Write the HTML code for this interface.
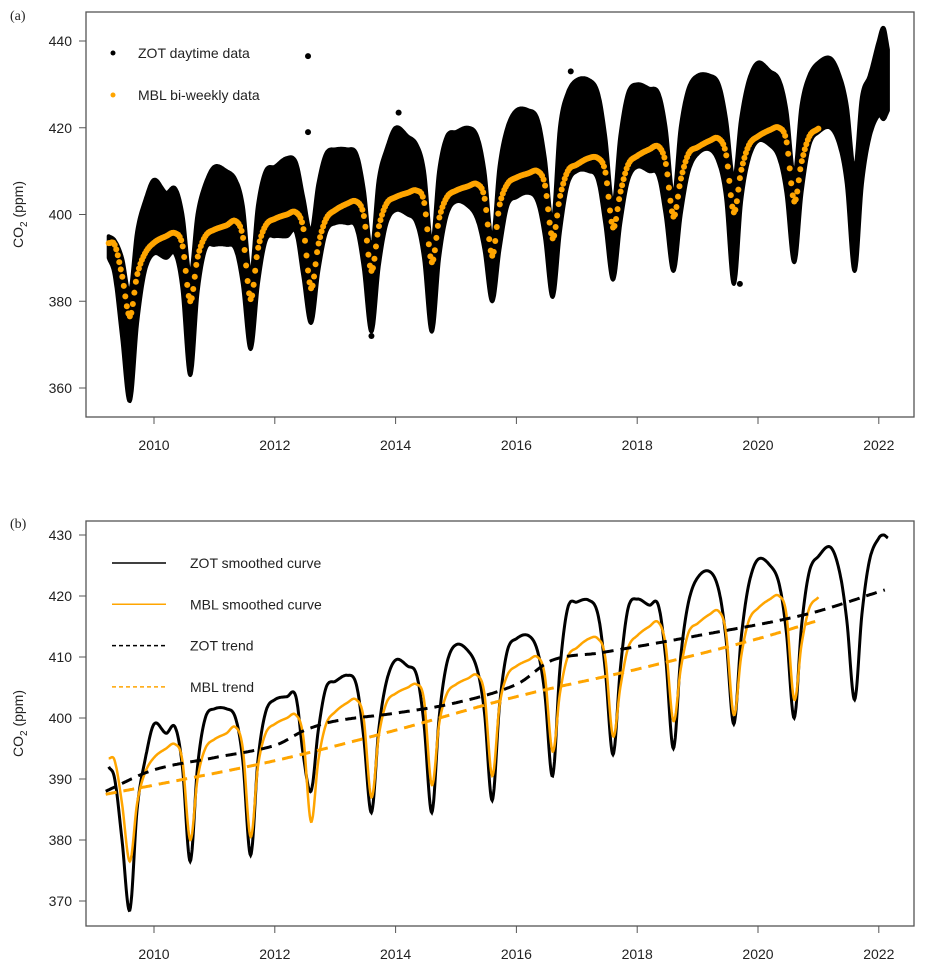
<!DOCTYPE html>
<html><head><meta charset="utf-8"><style>
body{margin:0;background:#fff}
svg text{font-family:"Liberation Sans",sans-serif;font-size:14px;fill:#222}
.ser{font-family:"Liberation Serif",serif}
</style></head><body>
<svg id="c" width="925" height="974" xmlns="http://www.w3.org/2000/svg"></svg>
<script>
// ---- data ----
const years=[2009,2010,2011,2012,2013,2014,2015,2016,2017,2018,2019,2020,2021];
const phases=[0,0.2,0.35,0.47,0.6,0.72,0.85];
const zotT=[2009.25,2009.35,2009.47,2009.6,2009.72,2009.85];
const zotSmooth=[392,390,380,368.5,385,393,
399,397.5,398.5,392,376.5,392,400,
401.5,401.5,400,393,377.5,393,401,
403,403.5,403.5,394,388,398,405,
406,407,405.5,397,384.5,398,406,
409.5,408.5,407,399,384.5,400,409,
412,411,408,401,386.5,402,411,
413,413.5,411,404,390.5,408,418,
419,419.3,417,408,394,408,418,
419.5,418.5,418.5,410,395,410,419,
423,424,421,413,399,413,422,
426,425,422,414,400,415,424,
426.5,428,424,416,403,417,426,
429.5,430,429.5];
const zotHi=[395,394,390,382,396,403,
408,405,406,400,386,400,407,
411,410,408,402,386,402,410,
411,413,412,404,396,407,414,
415,415,414,406,392,408,415,
420,418,416,410,393,410,418,
419,420,418,410,394,411,420,
424,424,422,413,398,420,428,
431,431,428,418,402,418,428,
430,429,428,420,404,420,429,
432,432,430,422,408,422,431,
435,433,431,424,409,425,432,
435,436,432,425,410,427,432,
440,443,438];
const zotLo=[390,386,372,357,375,387,
391,390,391,383,363,382,392,
393,393,392,384,369,384,394,
395,395,396,386,375,387,396,
398,398,397,388,373,388,398,
401,400,398,390,373,390,400,
403,402,399,392,380,392,402,
404,405,403,395,381,396,407,
410,410,408,398,385,398,408,
411,410,409,400,387,400,410,
414,415,412,404,384,403,413,
417,416,413,405,389,405,416,
419,420,416,407,387,407,418,
423,422,424];
const mblSmooth=[393.4,393,386,376.5,386,391,
393.5,395,395.7,393,380,390,395,
396.5,397.5,398.5,395,380.5,392,397.5,
399,400,400.5,397,383,393,399,
401,402.5,403,400,387,397,402.5,
404,405,405.5,403,389,399,404,
405.5,406.5,407,404,390.5,402,407,
408.5,409.5,410,407,394.5,404,410,
411.5,413,413,410,397,405,411.5,
413.5,415,415.7,412,399.5,408,414,
415.5,417,417.5,414,400.5,410,416,
418,419.5,420,417,403,412,418,
419.8];
const zotTrendT=[2009.2,2010,2011,2012,2012.5,2013,2014,2015,2016,2016.6,2017.4,2019,2020.8,2022.1];
const zotTrend=[388,391.5,393.5,395.5,398,399.5,400.8,402.5,405.5,409.5,410.7,413.5,417,421];
const mblTrendT=[2009.2,2010,2012,2014,2016,2018,2020,2021];
const mblTrend=[387.5,389,393,398,403.5,408,413,416];
const outT=[2012.55,2012.55,2013.6,2014.05,2016.9,2019.7,2021.4];
const outV=[436.5,419,372,423.5,433,384,428];
const yTicksA=[360,380,400,420,440];
const yTicksB=[370,380,390,400,410,420,430];
const xTicks=[2010,2012,2014,2016,2018,2020,2022];
// build time grids
const T=zotT.slice();
for(let i=1;i<years.length;i++)for(const p of phases)T.push(years[i]+p);
T.push(2022,2022.08,2022.15);
const mT=T.slice(0,mblSmooth.length-1);mT.push(2021.0);

// ---- helpers ----
const NS='http://www.w3.org/2000/svg';
const svg=document.getElementById('c');
function el(tag,attrs,parent){const e=document.createElementNS(NS,tag);for(const k in attrs)e.setAttribute(k,attrs[k]);(parent||svg).appendChild(e);return e;}
const X=t=>154+(t-2010)*60.4;
const YA=v=>388-(v-360)*4.3375;
const YB=v=>901-(v-370)*6.1;
// cubic hermite with catmull-rom tangents (non-uniform)
function spline(xs,ys){const n=xs.length,m=[];
 for(let i=0;i<n;i++){const a=Math.max(0,i-1),b=Math.min(n-1,i+1);m[i]=(ys[b]-ys[a])/(xs[b]-xs[a]);}
 return t=>{let i=0;while(i<n-2&&t>xs[i+1])i++;const h=xs[i+1]-xs[i],u=Math.min(1,Math.max(0,(t-xs[i])/h));
  const h00=2*u*u*u-3*u*u+1,h10=u*u*u-2*u*u+u,h01=-2*u*u*u+3*u*u,h11=u*u*u-u*u;
  return h00*ys[i]+h10*h*m[i]+h01*ys[i+1]+h11*h*m[i+1];};}
function pathOf(xs,ys,Y,step){const f=spline(xs,ys);let d='';
 for(let t=xs[0];t<=xs[xs.length-1]+1e-9;t+=step){d+=(d?'L':'M')+X(t).toFixed(1)+','+Y(f(t)).toFixed(1);}
 return d;}

function axes(top,bottom,Y,ticks,label,tag,labY){
 el('rect',{x:86,y:top,width:828,height:bottom-top,fill:'none',stroke:'#555','stroke-width':1.3,});
 for(const v of ticks){const y=Y(v);
  const tk=el('line',{x1:79,x2:86,y1:y,y2:y,stroke:'#555'});
  const tx=el('text',{x:72,y:y+5,'text-anchor':'end'});tx.textContent=v;
  }
 for(const t of xTicks){const x=X(t);
  const tk=el('line',{x1:x,x2:x,y1:bottom,y2:bottom+7,stroke:'#555'});
  const tx=el('text',{x:x,y:bottom+33,'text-anchor':'middle'});tx.textContent=t;
  }
 const yl=el('text',{x:0,y:0,'text-anchor':'middle',transform:`translate(23,${(top+bottom)/2}) rotate(-90)`});
 yl.innerHTML='CO<tspan dy="4" font-size="10">2</tspan><tspan dy="-4"> (ppm)</tspan>';
 
 const pl=el('text',{x:10,y:labY,'class':'ser'});pl.textContent=label;
 
}

// ---- panel a ----
axes(12,417,YA,yTicksA,'(a)','panel-a',20);
{const fh=spline(T,zotHi),fl=spline(T,zotLo);let d='';
 for(let t=T[0];t<=T[T.length-1]+1e-9;t+=0.01)d+=(d?'L':'M')+X(t).toFixed(1)+','+YA(fh(t)).toFixed(1);
 for(let t=T[T.length-1];t>=T[0]-1e-9;t-=0.01)d+='L'+X(t).toFixed(1)+','+YA(fl(t)).toFixed(1);
 const band=el('path',{d:d+'Z',fill:'#000',stroke:'#000','stroke-width':4,'stroke-linejoin':'round'});
 }
for(let i=0;i<outT.length;i++){const c=el('circle',{cx:X(outT[i]),cy:YA(outV[i]),r:3,fill:'#000'});
 }
{const f=spline(mT,mblSmooth);
 for(let t=mT[0];t<=mT[mT.length-1]+1e-9;t+=1/40){const c=el('circle',{cx:X(t),cy:YA(f(t)),r:3,fill:'#FFA500'});
  }}
{const g=el('g',{});
 el('circle',{cx:113,cy:53,r:2.5,fill:'#000'},g);const t1=el('text',{x:138,y:58},g);t1.textContent='ZOT daytime data';
 el('circle',{cx:113,cy:95,r:2.5,fill:'#FFA500'},g);const t2=el('text',{x:138,y:100},g);t2.textContent='MBL bi-weekly data';}

// ---- panel b ----
axes(521,926,YB,yTicksB,'(b)','panel-b',528);
{const p=el('path',{d:pathOf(T,zotSmooth,YB,0.01),fill:'none',stroke:'#000','stroke-width':3});
 
 const q=el('path',{d:pathOf(mT,mblSmooth,YB,0.01),fill:'none',stroke:'#FFA500','stroke-width':2.5});
 
 const r=el('path',{d:pathOf(zotTrendT,zotTrend,YB,0.02),fill:'none',stroke:'#000','stroke-width':3,'stroke-dasharray':'11,7'});
 
 const s=el('path',{d:pathOf(mblTrendT,mblTrend,YB,0.02),fill:'none',stroke:'#FFA500','stroke-width':3,'stroke-dasharray':'11,7'});
 }
{const g=el('g',{});
 const items=[['ZOT smoothed curve','#000',''],['MBL smoothed curve','#FFA500',''],['ZOT trend','#000','4,3'],['MBL trend','#FFA500','4,3']];
 items.forEach((it,i)=>{const y=563+i*41.3;
  el('line',{x1:112,x2:166,y1:y,y2:y,stroke:it[1],'stroke-width':1.5,'stroke-dasharray':it[2]},g);
  const t=el('text',{x:190,y:y+5},g);t.textContent=it[0];});}
</script>
</body></html>
